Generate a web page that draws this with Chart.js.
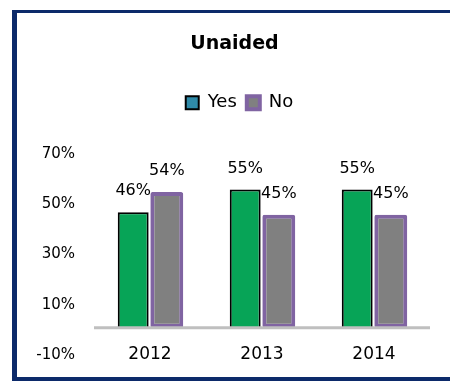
<!DOCTYPE html>
<html>
<head>
<meta charset="utf-8">
<script src="https://cdn.jsdelivr.net/npm/chart.js@4/dist/chart.umd.min.js"></script>
<style>
  body { margin: 0; background: #fff; }
  #frame {
    position: absolute; left: 12px; top: 10px; width: 460px; height: 364px;
    border-left: 5px solid #0c2a6a; border-top: 3px solid #0c2a6a; border-bottom: 4px solid #0c2a6a;
  }
  #wrap { position: absolute; left: 0; top: 0; width: 450px; height: 384px; }
</style>
</head>
<body>
<div id="frame"></div>
<div id="wrap"><canvas id="chart" width="450" height="384"></canvas></div>
<script>
const years = ["2012", "2013", "2014"];
const yesValues = [46, 55, 55];
const noValues = [54, 45, 45];
const yTicks = [-10, 10, 30, 50, 70];

const FONT = "'DejaVu Sans', sans-serif";

//grey line across the plot at 0%
const zeroLine = {
  id: "zeroLine",
  afterDatasetsDraw(chart) {
    const { ctx, chartArea, scales } = chart;
    const y = scales.y.getPixelForValue(0);
    ctx.save();
    ctx.strokeStyle = "#bfbfbf";
    ctx.lineWidth = 3;
    ctx.beginPath();
    ctx.moveTo(chartArea.left, y);
    ctx.lineTo(chartArea.right, y);
    ctx.stroke();
    ctx.restore();
  }
};

//percent labels above each bar, year labels on the -10% row
const barLabels = {
  id: "barLabels",
  afterDatasetsDraw(chart) {
    const { ctx, scales } = chart;
    ctx.save();
    ctx.fillStyle = "#000";
    ctx.textAlign = "center";
    ctx.textBaseline = "middle";
    ctx.font = "16px " + FONT;
    chart.data.datasets.forEach((ds, i) => {
      chart.getDatasetMeta(i).data.forEach((bar, j) => {
        ctx.fillText(ds.data[j] + "%", bar.x, bar.y - 21);
      });
    });
    ctx.font = "17px " + FONT;
    const yRow = scales.y.getPixelForValue(yTicks[0]) + 2;
    chart.data.labels.forEach((lab, i) => {
      ctx.fillText(lab, scales.x.getPixelForTick(i), yRow);
    });
    ctx.restore();
  }
};

//extra room under the legend, and nudge title/legend to the right
const legendRoom = {
  id: "legendRoom",
  afterInit(chart) {
    const fitLegend = chart.legend.fit;
    chart.legend.fit = function () {
      fitLegend.call(this);
      this.height += 30;
    };
  },
  afterLayout(chart) {
    chart.titleBlock.left += 6;
    chart.legend.left += 16;
  }
};

new Chart(document.getElementById("chart"), {
  type: "bar",
  plugins: [zeroLine, barLabels, legendRoom],
  data: {
    labels: years,
    datasets: [
      {
        label: "Yes",
        data: yesValues,
        backgroundColor: "#07a457",
        borderColor: "#000",
        borderWidth: 2,
        barPercentage: 0.92,
        categoryPercentage: 0.6
      },
      {
        label: "No",
        data: noValues,
        backgroundColor: "#808080",
        borderColor: "#8064a2",
        borderWidth: 4,
        borderRadius: 2,
        borderSkipped: false,
        barPercentage: 0.98,
        categoryPercentage: 0.6
      }
    ]
  },
  options: {
    responsive: false,
    animation: false,
    layout: { padding: { top: 24, left: 33, right: 20, bottom: 31 } },
    plugins: {
      tooltip: { enabled: false },
      title: {
        display: true,
        text: "Unaided",
        color: "#000",
        font: { family: FONT, size: 19, weight: "bold" },
        padding: { top: 9, bottom: 28 }
      },
      legend: {
        display: true,
        labels: {
          color: "#000",
          font: { family: FONT, size: 18 },
          boxWidth: 13,
          boxHeight: 13,
          padding: 10,
          generateLabels: () => [
            { text: "Yes", fillStyle: "#2f8aa8", strokeStyle: "#000", lineWidth: 2, datasetIndex: 0 },
            { text: "No", fillStyle: "#808080", strokeStyle: "#8064a2", lineWidth: 4, datasetIndex: 1 }
          ]
        }
      }
    },
    scales: {
      x: {
        display: false
      },
      y: {
        min: -10,
        max: 70,
        afterBuildTicks: (axis) => { axis.ticks = yTicks.map(v => ({ value: v })); },
        afterFit: (axis) => { axis.width = 61; },
        grid: { display: false, drawTicks: false },
        border: { display: false },
        ticks: { color: "#000", font: { family: FONT, size: 15 }, padding: 19, labelOffset: 2, callback: v => v + "%" }
      }
    }
  }
});
</script>
</body>
</html>
